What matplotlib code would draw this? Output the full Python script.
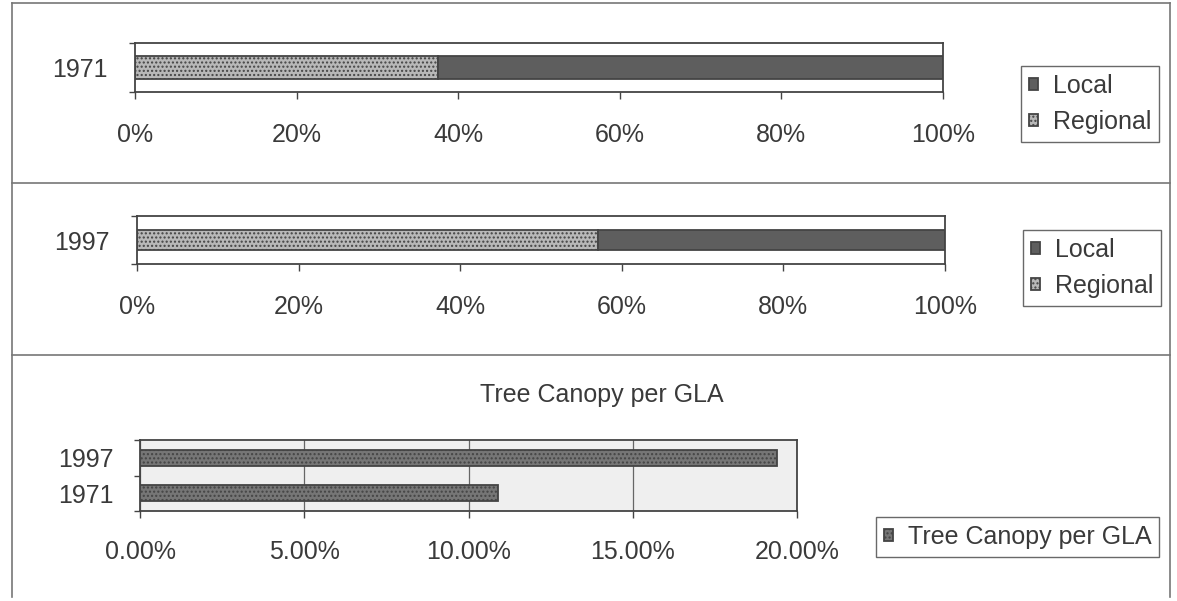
import matplotlib
matplotlib.use("Agg")
import matplotlib.pyplot as plt
from matplotlib.lines import Line2D

# Share of trips by destination type
share_years = ["1971", "1997"]
regional_share = [37.5, 57.0]
local_share = [62.5, 43.0]
share_ticks = [0, 20, 40, 60, 80, 100]

# Tree canopy per gross leasable area
canopy_years = ["1971", "1997"]
canopy_pct = [10.9, 19.4]
canopy_ticks = [0, 5, 10, 15, 20]

plt.rcParams["font.family"] = ["Liberation Sans", "DejaVu Sans"]

W, H = 1177, 601
fig = plt.figure(figsize=(W / 100, H / 100), dpi=100)
fig.patch.set_facecolor("white")

TXT = "#3a3a3a"
EDGE = "#444444"
LOCAL_C = "#5e5e5e"
REGIONAL_C = "#b8b8b8"
CANOPY_C = "#767676"
FS = 18


def px_axes(x0, y0, x1, y1):
    return fig.add_axes([x0 / W, 1 - y1 / H, (x1 - x0) / W, (y1 - y0) / H])


def style_axes(ax):
    for s in ax.spines.values():
        s.set_color(EDGE)
        s.set_linewidth(1.3)
    ax.tick_params(axis="both", which="both", colors=EDGE, labelcolor=TXT,
                   labelsize=FS, length=5, width=1.0)


def add_legend(handles, labels, cx, cy, spacing=0.5):
    leg = fig.legend(handles, labels, loc="center",
                     bbox_to_anchor=(cx / W, 1 - cy / H),
                     fontsize=FS, frameon=True, fancybox=False,
                     handlelength=0.35, handleheight=0.35, handletextpad=0.6,
                     labelspacing=spacing, borderpad=0.32, borderaxespad=0)
    leg.get_frame().set_edgecolor(EDGE)
    leg.get_frame().set_linewidth(1.0)
    for t in leg.get_texts():
        t.set_color(TXT)
    return leg


def category_axis(ax, labels, centres, bounds, pad):
    # tick marks sit on category boundaries, labels on category centres
    ax.set_yticks(bounds)
    ax.set_yticklabels([])
    ax.set_yticks(centres, minor=True)
    ax.set_yticklabels(labels, minor=True)
    ax.tick_params(axis="y", which="major", length=4)
    ax.tick_params(axis="y", which="minor", length=0, pad=pad)


def share_panel(box, idx, legend_center, bar_h):
    ax = px_axes(*box)
    y = [0]
    ax.barh(y, [regional_share[idx]], height=bar_h, color=REGIONAL_C,
            edgecolor=EDGE, linewidth=1.3, hatch="....", label="Regional")
    ax.barh(y, [local_share[idx]], left=[regional_share[idx]], height=bar_h,
            color=LOCAL_C, edgecolor=EDGE, linewidth=1.3, label="Local")
    ax.set_xlim(0, 100)
    ax.set_ylim(-0.5, 0.5)
    ax.set_xticks(share_ticks)
    ax.set_xticklabels([f"{t}%" for t in share_ticks])
    style_axes(ax)
    category_axis(ax, [share_years[idx]], [0], [-0.5, 0.5], 20)
    ax.tick_params(axis="x", pad=17)
    h, l = ax.get_legend_handles_labels()
    add_legend(h[::-1], l[::-1], *legend_center)
    return ax


share_panel((135, 43, 943, 92), 0, (1090, 104), 0.47)
share_panel((137, 216, 945, 264), 1, (1092, 268), 0.42)

# Tree canopy panel
ax3 = px_axes(140, 440, 797, 511)
ax3.set_facecolor("#efefef")
ax3.barh([0, 1], canopy_pct, height=0.46, color=CANOPY_C, edgecolor=EDGE,
         linewidth=1.3, hatch="....", label="Tree Canopy per GLA", zorder=3)
ax3.set_xlim(0, 20)
ax3.set_ylim(-0.5, 1.5)
ax3.set_xticks(canopy_ticks)
ax3.set_xticklabels([f"{t:.2f}%" for t in canopy_ticks])
ax3.grid(axis="x", which="major", color="#666666", linewidth=0.9, zorder=1)
style_axes(ax3)
category_axis(ax3, canopy_years, [0, 1], [-0.5, 0.5, 1.5], 19)
ax3.tick_params(axis="x", pad=16)
fig.text(602 / W, 1 - 395 / H, "Tree Canopy per GLA", ha="center",
         va="center", fontsize=18, color=TXT)
h, l = ax3.get_legend_handles_labels()
add_legend(h, l, 1017.5, 537)

# Panel frame and separators
line_kw = dict(color="#777777", linewidth=1.2, transform=fig.transFigure)
for yy in (183, 355):
    fig.add_artist(Line2D([12 / W, 1170 / W], [1 - yy / H, 1 - yy / H], **line_kw))
fig.add_artist(Line2D([12 / W, 1170 / W], [1 - 3 / H, 1 - 3 / H], **line_kw))
fig.add_artist(Line2D([12 / W, 12 / W], [1 - 3 / H, 1 - 597 / H], **line_kw))
fig.add_artist(Line2D([1170 / W, 1170 / W], [1 - 3 / H, 1 - 597 / H], **line_kw))

fig.savefig("out.png", dpi=100, facecolor="white")
